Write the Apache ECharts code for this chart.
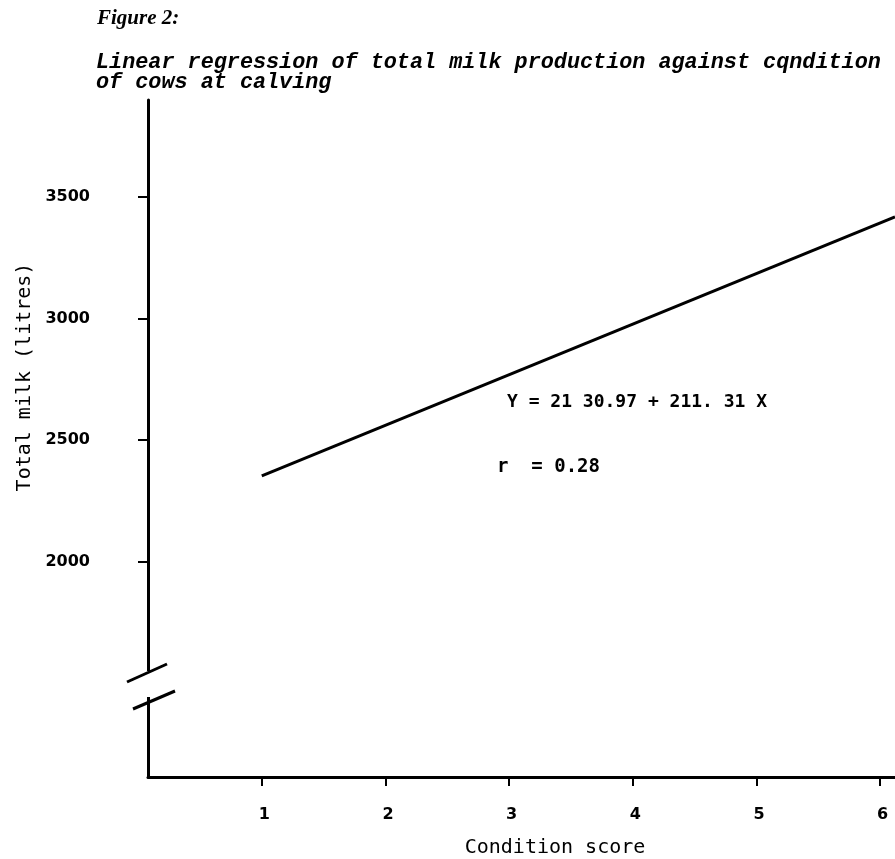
<!DOCTYPE html>
<html>
<head>
<meta charset="utf-8">
<script src="https://cdn.jsdelivr.net/npm/echarts@6/dist/echarts.min.js"></script>
<style>
html, body { margin: 0; padding: 0; background: #fff; }
#chart { width: 895px; height: 859px; }
</style>
</head>
<body>
<div id="chart"></div>
<script>
// values
var conditionTicks = [1, 2, 3, 4, 5, 6];
var milkTicks = [2000, 2500, 3000, 3500];
var regressionLine = [[1, 2352], [6.12, 3418]];

var chart = echarts.init(document.getElementById('chart'));

var option = {
    backgroundColor: '#fff',
    animation: false,
    title: [
        {
            text: 'Figure 2:',
            left: 92,
            top: 3,
            textStyle: {fontFamily: 'Liberation Serif', fontStyle: 'italic', fontWeight: 'bold', fontSize: 21, color: '#000'}
        },
        {
            text: 'Linear regression of total milk production against cqndition\nof cows at calving',
            left: 91,
            top: 48,
            textStyle: {fontFamily: 'Liberation Mono', fontStyle: 'italic', fontWeight: 'bold', fontSize: 21.8, lineHeight: 20, color: '#000'}
        }
    ],
    grid: {
        left: 148,
        right: 0,
        top: 100,
        bottom: 82,
        outerBoundsMode: 'none'
    },
    xAxis: {
        type: 'value',
        min: 0.08,
        max: 6.12,
        axisLine: {lineStyle: {color: '#000', width: 3}},
        axisTick: {show: true, length: 9, customValues: conditionTicks, lineStyle: {color: '#000', width: 2}},
        axisLabel: {customValues: conditionTicks, margin: 30, padding: [0, 0, 0, 5], fontFamily: 'DejaVu Sans', fontWeight: 'bold', fontSize: 16, color: '#000'},
        splitLine: {show: false}
    },
    yAxis: {
        type: 'value',
        min: 1113,
        max: 3899,
        axisLine: {lineStyle: {color: '#000', width: 3}},
        axisTick: {show: true, length: 10, customValues: milkTicks, lineStyle: {color: '#000', width: 2}},
        axisLabel: {
            customValues: milkTicks,
            margin: 58,
            padding: [0, 0, 12, 0],
            fontFamily: 'DejaVu Sans',
            fontWeight: 'bold',
            fontSize: 16,
            color: '#000',
            formatter: function (v) { return String(v); }
        },
        splitLine: {show: false}
    },
    graphic: [
        // axis names
        {type: 'text', x: 25, y: 377, rotation: Math.PI / 2,
            style: {text: 'Total milk (litres)', font: '20px "DejaVu Sans Mono"', fill: '#000', align: 'center', verticalAlign: 'middle'}},
        {type: 'text', x: 555, y: 848,
            style: {text: 'Condition score', font: '20px "DejaVu Sans Mono"', fill: '#000', align: 'center', verticalAlign: 'middle'}},
        // axis break
        {type: 'rect', shape: {x: 140, y: 671, width: 16, height: 26}, style: {fill: '#fff'}, z: 100},
        {type: 'line', shape: {x1: 127, y1: 682, x2: 167, y2: 664}, style: {stroke: '#000', lineWidth: 3}, z: 101},
        {type: 'line', shape: {x1: 133, y1: 709, x2: 175, y2: 691}, style: {stroke: '#000', lineWidth: 3}, z: 101},
        // regression annotation
        {type: 'text', x: 507, y: 402,
            style: {text: 'Y = 21 30.97 + 211. 31 X', font: 'bold 18px "DejaVu Sans Mono"', fill: '#000', verticalAlign: 'middle'}, z: 101},
        {type: 'text', x: 497, y: 467,
            style: {text: 'r  = 0.28', font: 'bold 19px "DejaVu Sans Mono"', fill: '#000', verticalAlign: 'middle'}, z: 101}
    ],
    series: [
        {
            type: 'line',
            data: regressionLine,
            showSymbol: false,
            lineStyle: {color: '#000', width: 3}
        }
    ]
};

chart.setOption(option);
window.addEventListener('resize', function () {
    chart.resize();
});
</script>
</body>
</html>
